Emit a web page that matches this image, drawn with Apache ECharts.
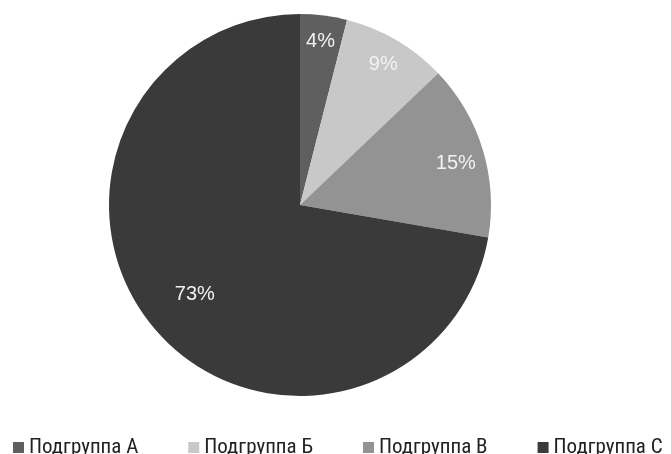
<!DOCTYPE html>
<html><head><meta charset="utf-8">
<script src="https://cdn.jsdelivr.net/npm/echarts@6/dist/echarts.min.js"></script>
<style>html,body{margin:0;padding:0;background:#fff}#c{width:671px;height:454px}</style>
</head><body><div id="c"></div>
<script>
const categories = ['Подгруппа А', 'Подгруппа Б', 'Подгруппа В', 'Подгруппа С'];
const values = [4, 9, 15, 73];
const colors = ['#5f5f5f', '#c8c8c8', '#939393', '#3a3a3a'];

const chart = echarts.init(document.getElementById('c'));
const pieData = categories.map((n, i) => ({ name: n, value: values[i], itemStyle: { color: colors[i] } }));
const labelOffsets = [[0, 0], [0, 2], [-2, 7], [21, -17]];
const labelData = categories.map((n, i) => ({ name: n, value: values[i], label: { offset: labelOffsets[i] } }));
chart.setOption({
  animation: false,
  legend: {
    data: categories,
    left: 8, top: 432, width: 800,
    icon: 'rect', itemWidth: 11, itemHeight: 11, itemGap: 50,
    textStyle: { fontFamily: 'Liberation Sans Narrow, Roboto Condensed, Roboto, sans-serif', fontSize: 21, color: '#222' }
  },
  series: [{
    type: 'pie', center: [300, 205], radius: [0, 191], startAngle: 90, clockwise: true,
    data: pieData, label: { show: false }, labelLine: { show: false },
    itemStyle: { borderWidth: 0 }, silent: true
  }, {
    type: 'pie', center: [300, 205], radius: [0, 324], startAngle: 90, clockwise: true,
    data: labelData, silent: true, legendHoverLink: false,
    itemStyle: { color: 'rgba(0,0,0,0)', borderWidth: 0 },
    label: { show: true, position: 'inside', formatter: p => p.value + '%',
      fontFamily: 'Liberation Sans, sans-serif', fontSize: 20, color: '#f2f2f2' },
    labelLine: { show: false }
  }]
});
</script></body></html>
